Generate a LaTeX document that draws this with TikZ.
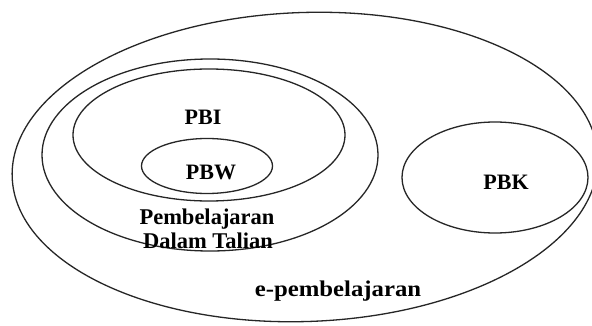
\documentclass[tikz,border=0pt]{standalone}
\usepackage{fontspec}
\setmainfont{Liberation Serif}
\usetikzlibrary{shapes.geometric}
\begin{document}
\begin{tikzpicture}[x=1pt,y=-1pt,
  ring/.style={draw=black!85, line width=1.3pt, ellipse, inner sep=0pt},
  lbl/.style={font=\fontsize{22}{22.5}\selectfont\bfseries, text=black, inner sep=0pt, align=center},
  lblw/.style={lbl, font=\fontsize{22.5}{22.5}\selectfont\bfseries}]
\useasboundingbox[fill=white] (0,0) rectangle (592,326);
\node[ring, minimum width=586pt, minimum height=309pt, rotate=2] (epb) at (305,167) {};
\node[ring, minimum width=336pt, minimum height=192pt] (pdt) at (210,155) {};
\node[ring, minimum width=272pt, minimum height=132pt] (pbi) at (209,135) {};
\node[ring, minimum width=131pt, minimum height=55pt] (pbw) at (207,166) {};
\node[ring, minimum width=186pt, minimum height=111pt] (pbk) at (495,177.5) {};
\node[lbl] (tpbi) at (203,117) {PBI};
\node[lbl] (tpbw) at (211,172) {PBW};
\node[lbl] (tpbk) at (506,182) {PBK};
\node[lblw] (tpdt1) at (207,219) {Pembelajaran};
\node[lblw] (tpdt2) at (208,241) {Dalam Talian};
\node[lblw] (tepb) at (338,291) {\scalebox{1.1}[1]{e-pembelajaran}};
\end{tikzpicture}
\end{document}
